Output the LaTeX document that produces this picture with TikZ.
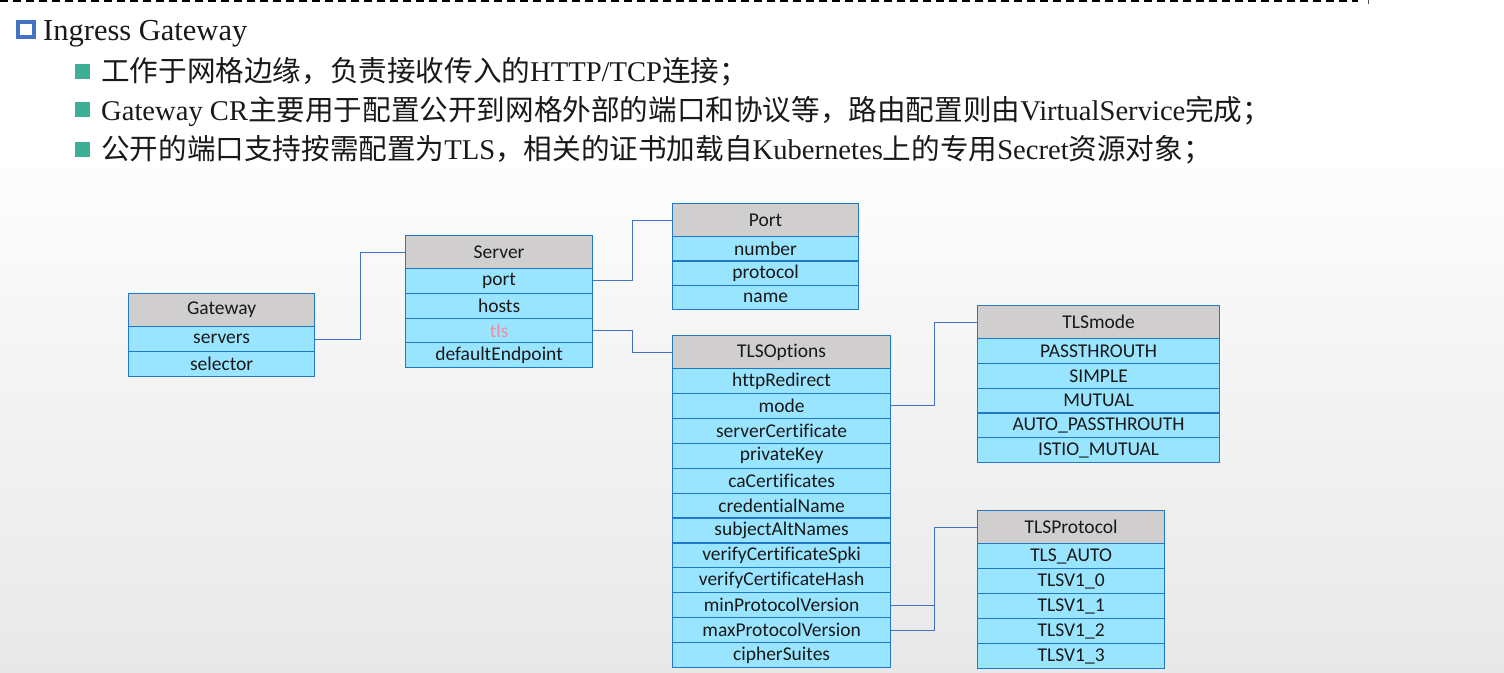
\documentclass[tikz,border=0pt]{standalone}
\usepackage{fontspec}
\setmainfont{Liberation Serif}
\newfontfamily\cjk{Noto Sans CJK SC}
\newfontfamily\tabfont[Ligatures=NoCommon]{Carlito}
\usetikzlibrary{calc}
\definecolor{boxblue}{HTML}{1F78C8}
\definecolor{rowfill}{HTML}{99E5FF}
\definecolor{hdrfill}{HTML}{D0CECE}
\definecolor{linkblue}{HTML}{4472C4}
\definecolor{tealsq}{HTML}{3FAE96}
\definecolor{tlspink}{HTML}{E890A4}
\newcommand\mktable[7]{%
  \node[hdr, minimum width=#4pt, minimum height=33pt] (#1-h) at (#2,#3) {#6};
  \foreach \t [count=\i] in {#7} {
    \node[rowcell, minimum width=#4pt, minimum height=#5pt] (#1-\i) at (#2, {#3+33+#5*(\i-1)}) {\t};
  }%
}
\begin{document}
\begin{tikzpicture}[x=1pt,y=-1pt,
  cell/.style={draw=boxblue, line width=1.2pt, anchor=north west, inner sep=0pt,
    font=\tabfont\fontsize{19.5}{21}\selectfont, text=black!90},
  hdr/.style={cell, fill=hdrfill},
  rowcell/.style={cell, fill=rowfill},
  link/.style={draw=linkblue, line width=1pt},
  bul/.style={anchor=base west, font=\fontsize{28.6}{31}\selectfont, text=black!90, inner sep=0pt}]
\useasboundingbox (0,0) rectangle (1504,672);
\fill[white] (0,0) rectangle (1504,672);
\shade[top color=white!99!black, bottom color=white!91!black] (0,168) rectangle (1504,672);
\draw[black, line width=2pt, dash pattern=on 8pt off 5pt] (0,1) -- (1358,1);
\draw[black!70, line width=0.8pt] (1368,0) -- (1368,4);
% title
\draw[linkblue, line width=3.5pt] (18,22) rectangle (34,37);
\node[anchor=base west, inner sep=0pt, font=\fontsize{30.5}{33}\selectfont, text=black!90] (title) at (43,40) {Ingress Gateway};
% bullets
\fill[tealsq] (75,64) rectangle (90,79);
\fill[tealsq] (75,102) rectangle (90,117);
\fill[tealsq] (75,142) rectangle (90,157);
\node[bul] (b1) at (101,81) {{\cjk 工作于网格边缘，负责接收传入的}HTTP/TCP{\cjk 连接；}};
\node[bul] (b2) at (101,120) {Gateway CR{\cjk 主要用于配置公开到网格外部的端口和协议等，路由配置则由}VirtualService{\cjk 完成；}};
\node[bul] (b3) at (101,159) {{\cjk 公开的端口支持按需配置为}TLS{\cjk ，相关的证书加载自}Kubernetes{\cjk 上的专用}Secret{\cjk 资源对象；}};
% tables
\mktable{gw}{128}{293}{186}{25}{Gateway}{servers,selector}
\mktable{srv}{405}{235}{187}{24.75}{Server}{port,hosts,\textcolor{tlspink}{tls},defaultEndpoint}
\mktable{port}{672}{203}{186}{24.4}{Port}{number,protocol,name}
\mktable{opt}{672}{335}{218}{24.9}{TLSOptions}{httpRedirect,mode,serverCertificate,privateKey,caCertificates,credentialName,subjectAltNames,verifyCertificateSpki,verifyCertificateHash,minProtocolVersion,maxProtocolVersion,cipherSuites}
\mktable{mode}{977}{305}{242}{24.8}{TLSmode}{PASSTHROUTH,SIMPLE,MUTUAL,AUTO\_PASSTHROUTH,ISTIO\_MUTUAL}
\mktable{proto}{977}{510}{187}{25}{TLSProtocol}{TLS\_AUTO,TLSV1\_0,TLSV1\_1,TLSV1\_2,TLSV1\_3}
% connectors
\draw[link] (gw-1.east) -| ($(gw-1.east)!.5!(srv-h.west)$) |- (srv-h.west);
\draw[link] (srv-1.east) -| ($(srv-1.east)!.5!(port-h.west)$) |- (port-h.west);
\draw[link] (srv-3.east) -| ($(srv-3.east)!.5!(opt-h.west)$) |- (opt-h.west);
\draw[link] (opt-2.east) -| ($(opt-2.east)!.5!(mode-h.west)$) |- (mode-h.west);
\draw[link] (opt-10.east) -| ($(opt-10.east)!.5!(proto-h.west)$) |- (proto-h.west);
\draw[link] (opt-11.east) -| ($(opt-11.east)!.5!(proto-h.west)$) |- (proto-h.west);
\end{tikzpicture}
\end{document}
